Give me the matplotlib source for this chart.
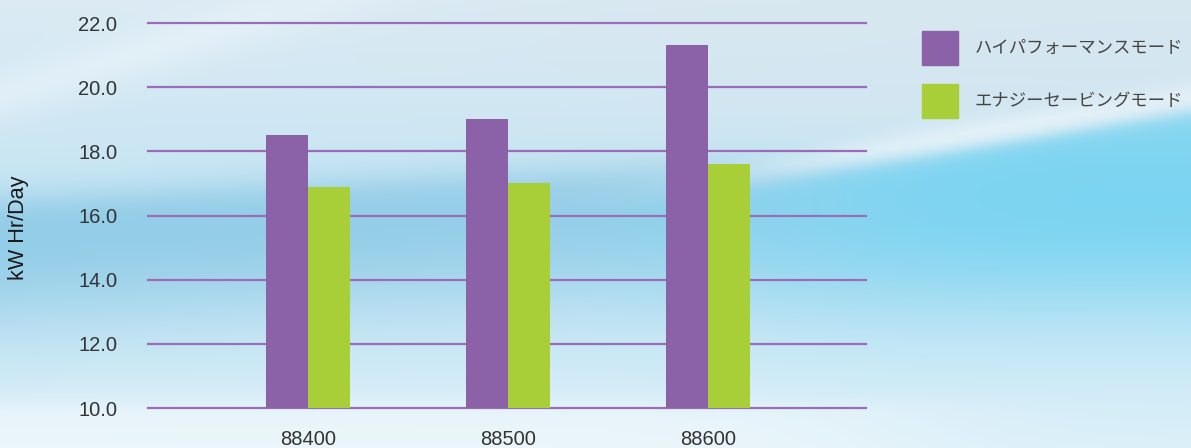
import numpy as np
import matplotlib
matplotlib.use("Agg")
import matplotlib.pyplot as plt
from matplotlib.patches import Rectangle

categories = ["88400", "88500", "88600"]
series_names = ["ハイパフォーマンスモード", "エナジーセービングモード"]
high_perf = [18.5, 19.0, 21.3]
energy_saving = [16.9, 17.0, 17.6]
y_ticks = [10.0, 12.0, 14.0, 16.0, 18.0, 20.0, 22.0]
colors = ["#8B61A8", "#A8CE38"]

W, H = 1191, 448
fig = plt.figure(figsize=(W / 100, H / 100), dpi=100)

# background
yy, xx = np.mgrid[0:H, 0:W].astype(float)
def smooth(d, w):
    return 1 / (1 + np.exp(-d / w))
def hexrgb(h):
    return np.array([int(h[i:i + 2], 16) / 255 for i in (1, 3, 5)])
def blend(img, col, a):
    return img * (1 - a[..., None]) + hexrgb(col) * a[..., None]
top = hexrgb("#dcebf4")
mid = hexrgb("#c4e4f3")
bot = hexrgb("#dcf0f9")
t = yy / H
img = np.where(t[..., None] < 0.5,
               top + (mid - top) * (t[..., None] / 0.5),
               mid + (bot - mid) * ((t[..., None] - 0.5) / 0.5))
# deep blue band on left/center
band_c = 250 - 0.05 * xx
band = smooth(yy - (band_c - 50), 10) * (1 - smooth(yy - (band_c + 60), 30))
band *= (1 - smooth(xx - 880, 100)) * 0.85
img = blend(img, "#84c6e4", band)
# bright cyan on right
edge = 168 - (xx - 850) * 0.17
cy = smooth(yy - edge, 5) * smooth(xx - 760, 90) * (1 - smooth(yy - 290, 35))
img = blend(img, "#6fd2f2", cy)
# white streak above cyan on right
streak = np.exp(-((yy - (edge - 14)) / 14) ** 2) * smooth(xx - 780, 60) * 0.55
img = blend(img, "#ffffff", streak)
# light diagonal at top-left
dg = np.exp(-((yy - (95 - 0.3 * xx)) / 25) ** 2) * (1 - smooth(xx - 500, 80)) * 0.5
img = blend(img, "#eef6fb", dg)
# grayish top-right
gr = smooth(xx - 450, 120) * (1 - smooth(yy - (60 + 0.05 * xx), 40)) * 0.5
img = blend(img, "#d3e3ec", gr)
# bottom white strip (left/center)
bw = smooth(yy - 402, 6) * 0.7 * (1 - smooth(xx - 900, 80))
img = blend(img, "#f2f8fc", bw)

bg = fig.add_axes([0, 0, 1, 1], zorder=-10)
bg.imshow(np.clip(img, 0, 1), aspect="auto", extent=[0, W, H, 0])
bg.axis("off")

ax = fig.add_axes([148 / W, 1 - 408 / H, (866 - 148) / W, (408 - 23) / H])
ax.set_facecolor("none")
x = np.arange(len(categories))
bw_ = 0.21
ax.bar(x - bw_ / 2, high_perf, width=bw_, color=colors[0], zorder=3)
ax.bar(x + bw_ / 2, energy_saving, width=bw_, color=colors[1], zorder=3)
ax.set_ylim(10, 22)
ax.set_xlim(-0.8, 2.79)
ax.set_yticks(y_ticks)
ax.set_yticklabels([f"{v:.1f}" for v in y_ticks])
ax.set_xticks(x)
ax.set_xticklabels(categories)
for v in y_ticks:
    ax.axhline(v, color="#9A6DB6", lw=1.6, zorder=1, clip_on=False)
for s in ax.spines.values():
    s.set_visible(False)
ax.tick_params(axis="y", length=0, pad=22, labelsize=14.5, labelcolor="#333333")
ax.tick_params(axis="x", length=0, pad=16, labelsize=14.5, labelcolor="#333333")
for lab in ax.get_xticklabels() + ax.get_yticklabels():
    lab.set_fontfamily("Liberation Sans")
ax.set_ylabel("kW Hr/Day", fontsize=15.6, fontfamily="Liberation Sans",
              color="#1a1a1a")
ax.yaxis.set_label_coords(-(148 - 29) / (866 - 148), (408 - 228) / 385)

# legend
for i, (name, c) in enumerate(zip(series_names, colors)):
    y0 = 31 + i * 53
    fig.patches.append(Rectangle((922 / W, 1 - (y0 + 34) / H), 36 / W, 34 / H,
                                 transform=fig.transFigure, color=c))
    fig.text(975 / W, 1 - (y0 + 17) / H, name, fontsize=12.5,
             fontfamily=["Noto Sans CJK JP", "DejaVu Sans"], color="#444444",
             va="center", ha="left")

fig.savefig("out.png", dpi=100)
